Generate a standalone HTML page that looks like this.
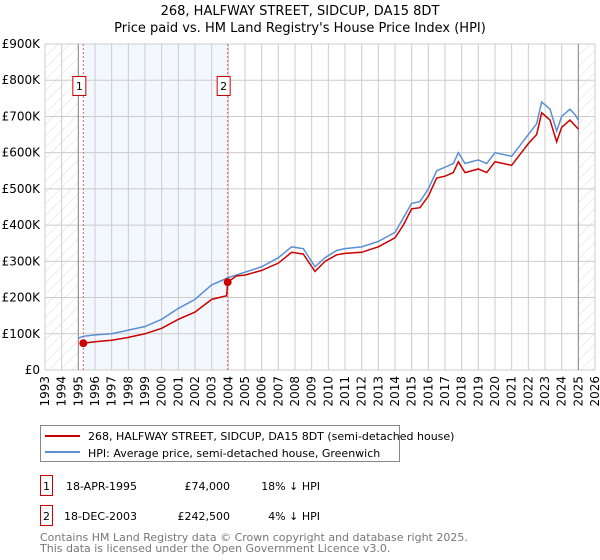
<!DOCTYPE html>
<html><head><meta charset="utf-8"><style>
body{margin:0;background:#fff;font-family:"Liberation Sans","DejaVu Sans",sans-serif;}
svg{display:block}
</style></head><body>
<svg id="c" width="600" height="560" xmlns="http://www.w3.org/2000/svg" font-family="DejaVu Sans, Liberation Sans, sans-serif">
<defs><pattern id="h" width="8" height="8" patternUnits="userSpaceOnUse" patternTransform="rotate(45)"><line x1="0" y1="0" x2="0" y2="8" stroke="#ddd" stroke-width="1"/></pattern></defs>
<text x="300" y="15" text-anchor="middle" font-size="13">268, HALFWAY STREET, SIDCUP, DA15 8DT</text>
<text x="300" y="32" text-anchor="middle" font-size="13">Price paid vs. HM Land Registry's House Price Index (HPI)</text>
<g id="plot"></g>
<g>
<rect x="40.5" y="425.5" width="359" height="36" fill="#fff" stroke="#888"/>
<line x1="45" y1="436" x2="80" y2="436" stroke="#cc0000" stroke-width="2"/>
<text x="88" y="440" font-size="11">268, HALFWAY STREET, SIDCUP, DA15 8DT (semi-detached house)</text>
<line x1="45" y1="452" x2="80" y2="452" stroke="#5b8fd4" stroke-width="2"/>
<text x="88" y="457" font-size="11">HPI: Average price, semi-detached house, Greenwich</text>
</g>
<g font-size="11">
<rect x="40.5" y="475.5" width="12" height="20" fill="#fff" stroke="#cc0000"/><text x="46.5" y="490" text-anchor="middle">1</text>
<text x="137" y="490" text-anchor="end">18-APR-1995</text><text x="230" y="490" text-anchor="end">£74,000</text><text x="320" y="490" text-anchor="end">18% ↓ HPI</text>
<rect x="40.5" y="505.5" width="12" height="20" fill="#fff" stroke="#cc0000"/><text x="46.5" y="520" text-anchor="middle">2</text>
<text x="137" y="520" text-anchor="end">18-DEC-2003</text><text x="230" y="520" text-anchor="end">£242,500</text><text x="320" y="520" text-anchor="end">4% ↓ HPI</text>
</g>
<text x="40" y="541" font-size="11" fill="#777">Contains HM Land Registry data © Crown copyright and database right 2025.</text>
<text x="40" y="552" font-size="11" fill="#777">This data is licensed under the Open Government Licence v3.0.</text>
</svg>
<script>
const yTicks=[0,100,200,300,400,500,600,700,800,900];
const yTickLabels=["£0","£100K","£200K","£300K","£400K","£500K","£600K","£700K","£800K","£900K"];
const years=[1993,1994,1995,1996,1997,1998,1999,2000,2001,2002,2003,2004,2005,2006,2007,2008,2009,2010,2011,2012,2013,2014,2015,2016,2017,2018,2019,2020,2021,2022,2023,2024,2025,2026];
const hpiT=[1995.0,1995.3,1996,1997,1998,1999,2000,2001,2002,2003,2004,2005,2006,2007,2007.8,2008.5,2009.2,2009.8,2010.5,2011,2012,2013,2014,2014.5,2015,2015.5,2016,2016.5,2017,2017.5,2017.8,2018.2,2019,2019.5,2020,2021,2021.5,2022,2022.5,2022.8,2023.3,2023.7,2024,2024.5,2024.8,2025];
const hpiV=[88,93,97,100,110,120,140,170,195,235,255,270,285,310,340,335,285,310,330,335,340,355,380,420,460,465,500,550,560,570,600,570,580,570,600,590,620,650,680,740,720,660,700,720,705,690];
const priceT=[1995.3,1996,1997,1998,1999,2000,2001,2002,2003,2003.9,2003.96,2004.5,2005,2006,2007,2007.8,2008.5,2009.2,2009.8,2010.5,2011,2012,2013,2014,2014.5,2015,2015.5,2016,2016.5,2017,2017.5,2017.8,2018.2,2019,2019.5,2020,2021,2021.5,2022,2022.5,2022.8,2023.3,2023.7,2024,2024.5,2024.8,2025];
const priceV=[74,78,82,90,100,115,140,160,195,205,242.5,260,262,275,295,325,320,272,300,318,322,325,340,365,400,445,448,480,530,535,545,575,545,555,545,575,565,595,625,650,710,690,630,670,690,675,665];
const saleT=[1995.3,2003.96];
const saleV=[74,242.5];
const saleLabels=["1","2"];
const X0=45,X1=595,Y0=370,Y1=44;
const xs=t=>X0+(t-1993)/(2026-1993)*(X1-X0);
const ys=v=>Y0-v/900*(Y0-Y1);
const NS="http://www.w3.org/2000/svg";
const g=document.getElementById('plot');
function mk(tag,attrs,parent){const e=document.createElementNS(NS,tag);for(const k in attrs)e.setAttribute(k,attrs[k]);(parent||g).appendChild(e);return e;}
let e;
e=mk('rect',{x:xs(1995.3),y:Y1,width:xs(2003.96)-xs(1995.3),height:Y0-Y1,fill:'#eef3fd',opacity:0.7});


e=mk('rect',{x:X0,y:Y1,width:xs(1995)-X0,height:Y0-Y1,fill:'url(#h)'});


e=mk('rect',{x:xs(2025.0),y:Y1,width:X1-xs(2025.0),height:Y0-Y1,fill:'url(#h)'});


yTicks.forEach((v,i)=>{
 e=mk('line',{x1:X0,x2:X1,y1:ys(v),y2:ys(v),stroke:'#ccc'});
 
 
 e=mk('text',{x:X0-5,y:ys(v)+4,'text-anchor':'end','font-size':12});
 e.textContent=yTickLabels[i];
 
 
});
years.forEach(y=>{
 e=mk('line',{x1:xs(y),x2:xs(y),y1:Y1,y2:Y0,stroke:'#ccc'});
 
 
 const tx=xs(y)+4, ty=Y0+6;
 e=mk('text',{x:tx,y:ty,'text-anchor':'end','font-size':12,transform:'rotate(-90 '+tx+' '+ty+')'});
 e.textContent=y;
 
 
});
e=mk('line',{x1:xs(1995),x2:xs(1995),y1:Y1,y2:Y0,stroke:'#888'});


e=mk('line',{x1:xs(2025.0),x2:xs(2025.0),y1:Y1,y2:Y0,stroke:'#888'});


saleT.forEach((t,i)=>{
 e=mk('line',{x1:xs(t),x2:xs(t),y1:Y1,y2:Y0,stroke:'#e06060','stroke-dasharray':'2,2'});
 
 
 e=mk('rect',{x:xs(t)-10.5,y:76.5,width:13,height:19,fill:'#fff',stroke:'#cc0000'});
 
 
 e=mk('text',{x:xs(t)-4,y:90,'text-anchor':'middle','font-size':11});
 e.textContent=saleLabels[i];
 
 
});
e=mk('polyline',{points:hpiT.map((t,i)=>xs(t)+','+ys(hpiV[i])).join(' '),fill:'none',stroke:'#5b8fd4','stroke-width':1.5});


e=mk('polyline',{points:priceT.map((t,i)=>xs(t)+','+ys(priceV[i])).join(' '),fill:'none',stroke:'#cc0000','stroke-width':1.5});


saleT.forEach((t,i)=>{
 e=mk('circle',{cx:xs(t),cy:ys(saleV[i]),r:4,fill:'#cc0000'});
 
 
});
</script>
</body></html>
